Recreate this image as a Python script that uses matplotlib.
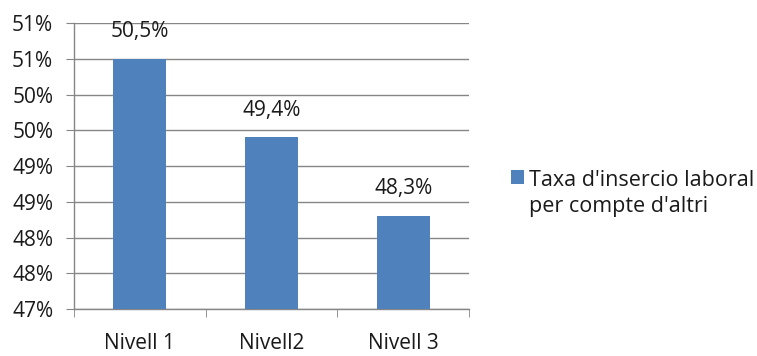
import matplotlib
matplotlib.use("Agg")
import matplotlib.pyplot as plt
import numpy as np

categories = ["Nivell 1", "Nivell2", "Nivell 3"]
values = [50.5, 49.4, 48.3]
value_labels = ["50,5%", "49,4%", "48,3%"]
y_ticks = [47.0, 47.5, 48.0, 48.5, 49.0, 49.5, 50.0, 50.5, 51.0]
y_tick_labels = ["47%", "48%", "48%", "49%", "49%", "50%", "50%", "51%", "51%"]
series_name = "Taxa d'insercio laboral\nper compte d'altri"

plt.rcParams["font.family"] = ["Open Sans", "DejaVu Sans"]
FS = 15
TXT = "#1a1a1a"

fig = plt.figure(figsize=(7.57, 3.56), dpi=100)
ax = fig.add_axes([74 / 757, 47 / 356, 395 / 757, 286 / 356])

x = np.arange(len(categories))
ax.bar(x, values, width=0.4, color="#4F81BD", label=series_name, zorder=3)

for xi, v, lab in zip(x, values, value_labels):
    ax.annotate(lab, (xi, v), xytext=(0, 12), textcoords="offset points",
                ha="center", va="bottom", fontsize=FS, color=TXT)

ax.set_xlim(-0.5, len(categories) - 0.5)
ax.set_ylim(47, 51)
ax.set_yticks(y_ticks)
ax.set_yticklabels(y_tick_labels, fontsize=FS, color=TXT)
ax.set_xticks(x)
ax.set_xticklabels(categories, fontsize=FS, color=TXT)
ax.set_xticks(np.arange(len(categories) + 1) - 0.5, minor=True)

ax.tick_params(axis="x", which="major", length=0, pad=17)
ax.tick_params(axis="x", which="minor", length=6, color="#868686", direction="out")
ax.tick_params(axis="y", length=6, color="#868686", direction="out", pad=9)

ax.grid(True, axis="y", color="#868686", linewidth=1.0, zorder=0)
for side in ["top", "right"]:
    ax.spines[side].set_visible(False)
for side in ["left", "bottom"]:
    ax.spines[side].set_color("#868686")
    ax.spines[side].set_linewidth(1.0)

leg = ax.legend(loc="upper left", bbox_to_anchor=(1.085, 0.516), frameon=False,
                fontsize=15.5, handlelength=0.6, handleheight=0.6,
                handletextpad=0.25, borderaxespad=0, labelspacing=0)
for t in leg.get_texts():
    t.set_linespacing(1.3)
    t.set_color(TXT)
# square beside the first line, as in the reference
for column in leg._legend_box.get_children()[1].get_children():
    for entry in column.get_children():
        entry.align = "top"

fig.savefig("out.png", dpi=100)
